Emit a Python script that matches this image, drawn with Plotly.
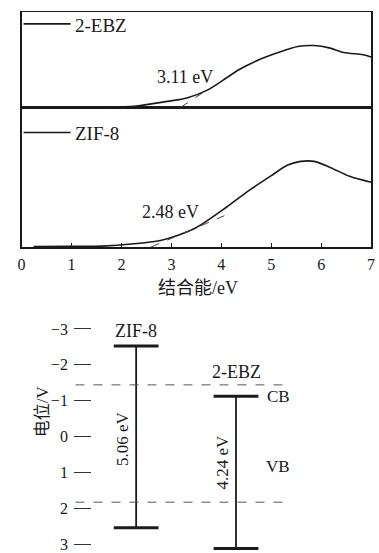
import plotly.graph_objects as go

W, H = 379, 553

# ---- Data: absorption-edge curves (a.u.) ----
ebz_x = [0.43, 1.0, 1.61, 2.25, 2.92, 3.31, 3.71, 4.10, 4.35, 4.75, 5.14, 5.53, 5.86, 6.18, 6.45, 6.84, 7.0]
ebz_y = [0, 0.1, 0.3, 1.3, 6.3, 9.7, 17.3, 29.7, 38, 48, 55.3, 61.3, 62.3, 59.7, 55.3, 53, 50.7]
ebz_tan_x = [3.18, 3.72]
ebz_tan_y = [0, 18]

zif_x = [0.24, 0.96, 1.61, 2.25, 2.78, 3.12, 3.51, 4.10, 4.55, 5.0, 5.33, 5.59, 5.86, 6.18, 6.57, 7.0]
zif_y = [0.5, 0.8, 1, 3.3, 6.7, 11.7, 20, 40, 56.7, 71.7, 82.3, 86, 86, 80, 71, 65]
zif_tan_x = [2.59, 4.06]
zif_tan_y = [0, 31.5]

xticks = [0, 1, 2, 3, 4, 5, 6, 7]

# ---- Band positions (V) ----
materials = ["ZIF-8", "2-EBZ"]
mat_pos = [1, 2]
cb = [-2.52, -1.12]
vb = [2.54, 3.12]
gap_labels = ["5.06 eV", "4.24 eV"]
ref_levels = [-1.44, 1.83]
pot_ticks = [-3, -2, -1, 0, 1, 2, 3]
pot_ticktext = ["\u22123", "\u22122", "\u22121", "0", "1", "2", "3"]

SERIF = "Liberation Serif, Times New Roman, serif"
CJK = "Liberation Serif, Noto Sans CJK SC, serif"
INK = "#1a1a1a"

def px(x):
    return x / W

def py(y):
    return 1 - y / H

fig = go.Figure()

# lower top panel: ZIF-8
fig.add_trace(go.Scatter(x=zif_x, y=zif_y, mode="lines",
                         line=dict(color=INK, width=1.6, shape="spline", smoothing=0.8),
                         xaxis="x", yaxis="y", showlegend=False))
fig.add_trace(go.Scatter(x=zif_tan_x, y=zif_tan_y, mode="lines", line=dict(color="#444", width=1, dash="dash"),
                         xaxis="x", yaxis="y", showlegend=False))
# upper panel: 2-EBZ
fig.add_trace(go.Scatter(x=ebz_x, y=ebz_y, mode="lines",
                         line=dict(color=INK, width=1.6, shape="spline", smoothing=0.8),
                         xaxis="x2", yaxis="y2", showlegend=False))
fig.add_trace(go.Scatter(x=ebz_tan_x, y=ebz_tan_y, mode="lines", line=dict(color="#444", width=1, dash="dash"),
                         xaxis="x2", yaxis="y2", showlegend=False))

# band diagram
for i, m in enumerate(materials):
    fig.add_trace(go.Scatter(x=[mat_pos[i], mat_pos[i]], y=[cb[i], vb[i]], mode="lines",
                             line=dict(color=INK, width=1.8), xaxis="x3", yaxis="y3", showlegend=False))
    fig.add_trace(go.Scatter(x=[mat_pos[i], mat_pos[i]], y=[cb[i], vb[i]], mode="markers",
                             marker=dict(symbol="line-ew", size=32, line=dict(color=INK, width=3)),
                             xaxis="x3", yaxis="y3", showlegend=False))

shapes = []
for lv in ref_levels:
    shapes.append(dict(type="line", xref="paper", yref="y3", x0=px(73), x1=px(290), y0=lv, y1=lv,
                       line=dict(color="#555", width=1, dash="dash")))
# legend swatches for top panels
shapes.append(dict(type="line", xref="paper", yref="paper", x0=px(20), x1=px(68), y0=py(24), y1=py(24),
                   line=dict(color=INK, width=1.6)))
shapes.append(dict(type="line", xref="paper", yref="paper", x0=px(20), x1=px(68), y0=py(133), y1=py(133),
                   line=dict(color=INK, width=1.6)))

ann = []
ann.append(dict(text="2-EBZ", xref="paper", yref="paper", x=px(70), y=py(26), xanchor="left", yanchor="middle",
                showarrow=False, font=dict(family=SERIF, size=19, color=INK)))
ann.append(dict(text="ZIF-8", xref="paper", yref="paper", x=px(70), y=py(134), xanchor="left", yanchor="middle",
                showarrow=False, font=dict(family=SERIF, size=19, color=INK)))
ann.append(dict(text="3.11 eV", xref="x2", yref="y2", x=3.27, y=31, showarrow=False,
                font=dict(family=SERIF, size=18, color=INK)))
ann.append(dict(text="2.48 eV", xref="x", yref="y", x=2.98, y=35, showarrow=False,
                font=dict(family=SERIF, size=18, color=INK)))
ann.append(dict(text="结合能/eV", xref="paper", yref="paper", x=px(198), y=py(289), showarrow=False,
                font=dict(family=CJK, size=18, color=INK)))
# band diagram labels
ann.append(dict(text="ZIF-8", xref="x3", yref="y3", x=mat_pos[0], y=cb[0], yshift=15, showarrow=False,
                font=dict(family=SERIF, size=18, color=INK)))
ann.append(dict(text="2-EBZ", xref="x3", yref="y3", x=mat_pos[1], y=cb[1], yshift=24, showarrow=False,
                font=dict(family=SERIF, size=18, color=INK)))
ann.append(dict(text="CB", xref="x3", yref="y3", x=mat_pos[1], y=cb[1], xshift=29, xanchor="left",
                showarrow=False, font=dict(family=SERIF, size=17, color=INK)))
ann.append(dict(text="VB", xref="paper", yref="paper", x=px(266), y=py(480), xanchor="left",
                showarrow=False, font=dict(family=SERIF, size=17, color=INK)))
ann.append(dict(text=gap_labels[0], xref="x3", yref="y3", x=mat_pos[0], y=(cb[0] + vb[0]) / 2, xshift=-13,
                yshift=-2, textangle=-90, showarrow=False, font=dict(family=SERIF, size=17, color=INK)))
ann.append(dict(text=gap_labels[1], xref="x3", yref="y3", x=mat_pos[1], y=(cb[1] + vb[1]) / 2, xshift=-14,
                yshift=10, textangle=-90, showarrow=False, font=dict(family=SERIF, size=17, color=INK)))
ann.append(dict(text="电位/V", xref="paper", yref="paper", x=px(27), y=py(441), textangle=-90, showarrow=False,
                font=dict(family=CJK, size=17, color=INK)))

xdom = [px(18), px(375)]
fig.update_layout(
    width=W, height=H, margin=dict(l=0, r=0, t=0, b=0),
    paper_bgcolor="white", plot_bgcolor="white",
    shapes=shapes, annotations=ann,
    xaxis=dict(domain=xdom, anchor="y", range=[0, 7], tickvals=xticks, ticks="inside", ticklen=4,
               tickcolor=INK, showline=True, mirror=True, linecolor=INK, linewidth=1.5, showgrid=False,
               zeroline=False, ticklabeloverflow="allow", ticklabelstandoff=2,
               tickfont=dict(family=SERIF, size=16, color=INK)),
    yaxis=dict(domain=[py(248), py(108)], anchor="x", range=[0, 140], showticklabels=False, ticks="",
               showline=True, mirror=True, linecolor=INK, linewidth=1.5, showgrid=False, zeroline=False),
    xaxis2=dict(domain=xdom, anchor="y2", range=[0, 7], showticklabels=False, ticks="", showline=True,
                mirror=True, linecolor=INK, linewidth=1, showgrid=False, zeroline=False),
    yaxis2=dict(domain=[py(108), py(12)], anchor="x2", range=[0, 96], showticklabels=False, ticks="",
                showline=True, mirror=True, linecolor=INK, linewidth=1.5, showgrid=False, zeroline=False),
    xaxis3=dict(domain=[px(90), 1], anchor="y3", range=[1 - 45 / 102, 2 + 142 / 102], visible=False),
    yaxis3=dict(domain=[0, py(320)], anchor="x3", range=[3.19, -3.28], tickvals=pot_ticks,
                ticktext=pot_ticktext, ticks="outside", ticklen=17, tickwidth=1, tickcolor="#333",
                showline=False, showgrid=False, zeroline=False, ticklabelstandoff=3,
                ticklabeloverflow="allow", tickfont=dict(family=SERIF, size=16, color=INK)),
)

fig.write_html("out.html", config={"displayModeBar": False},
               post_script="document.body.style.margin='0';document.body.style.overflow='hidden';")
